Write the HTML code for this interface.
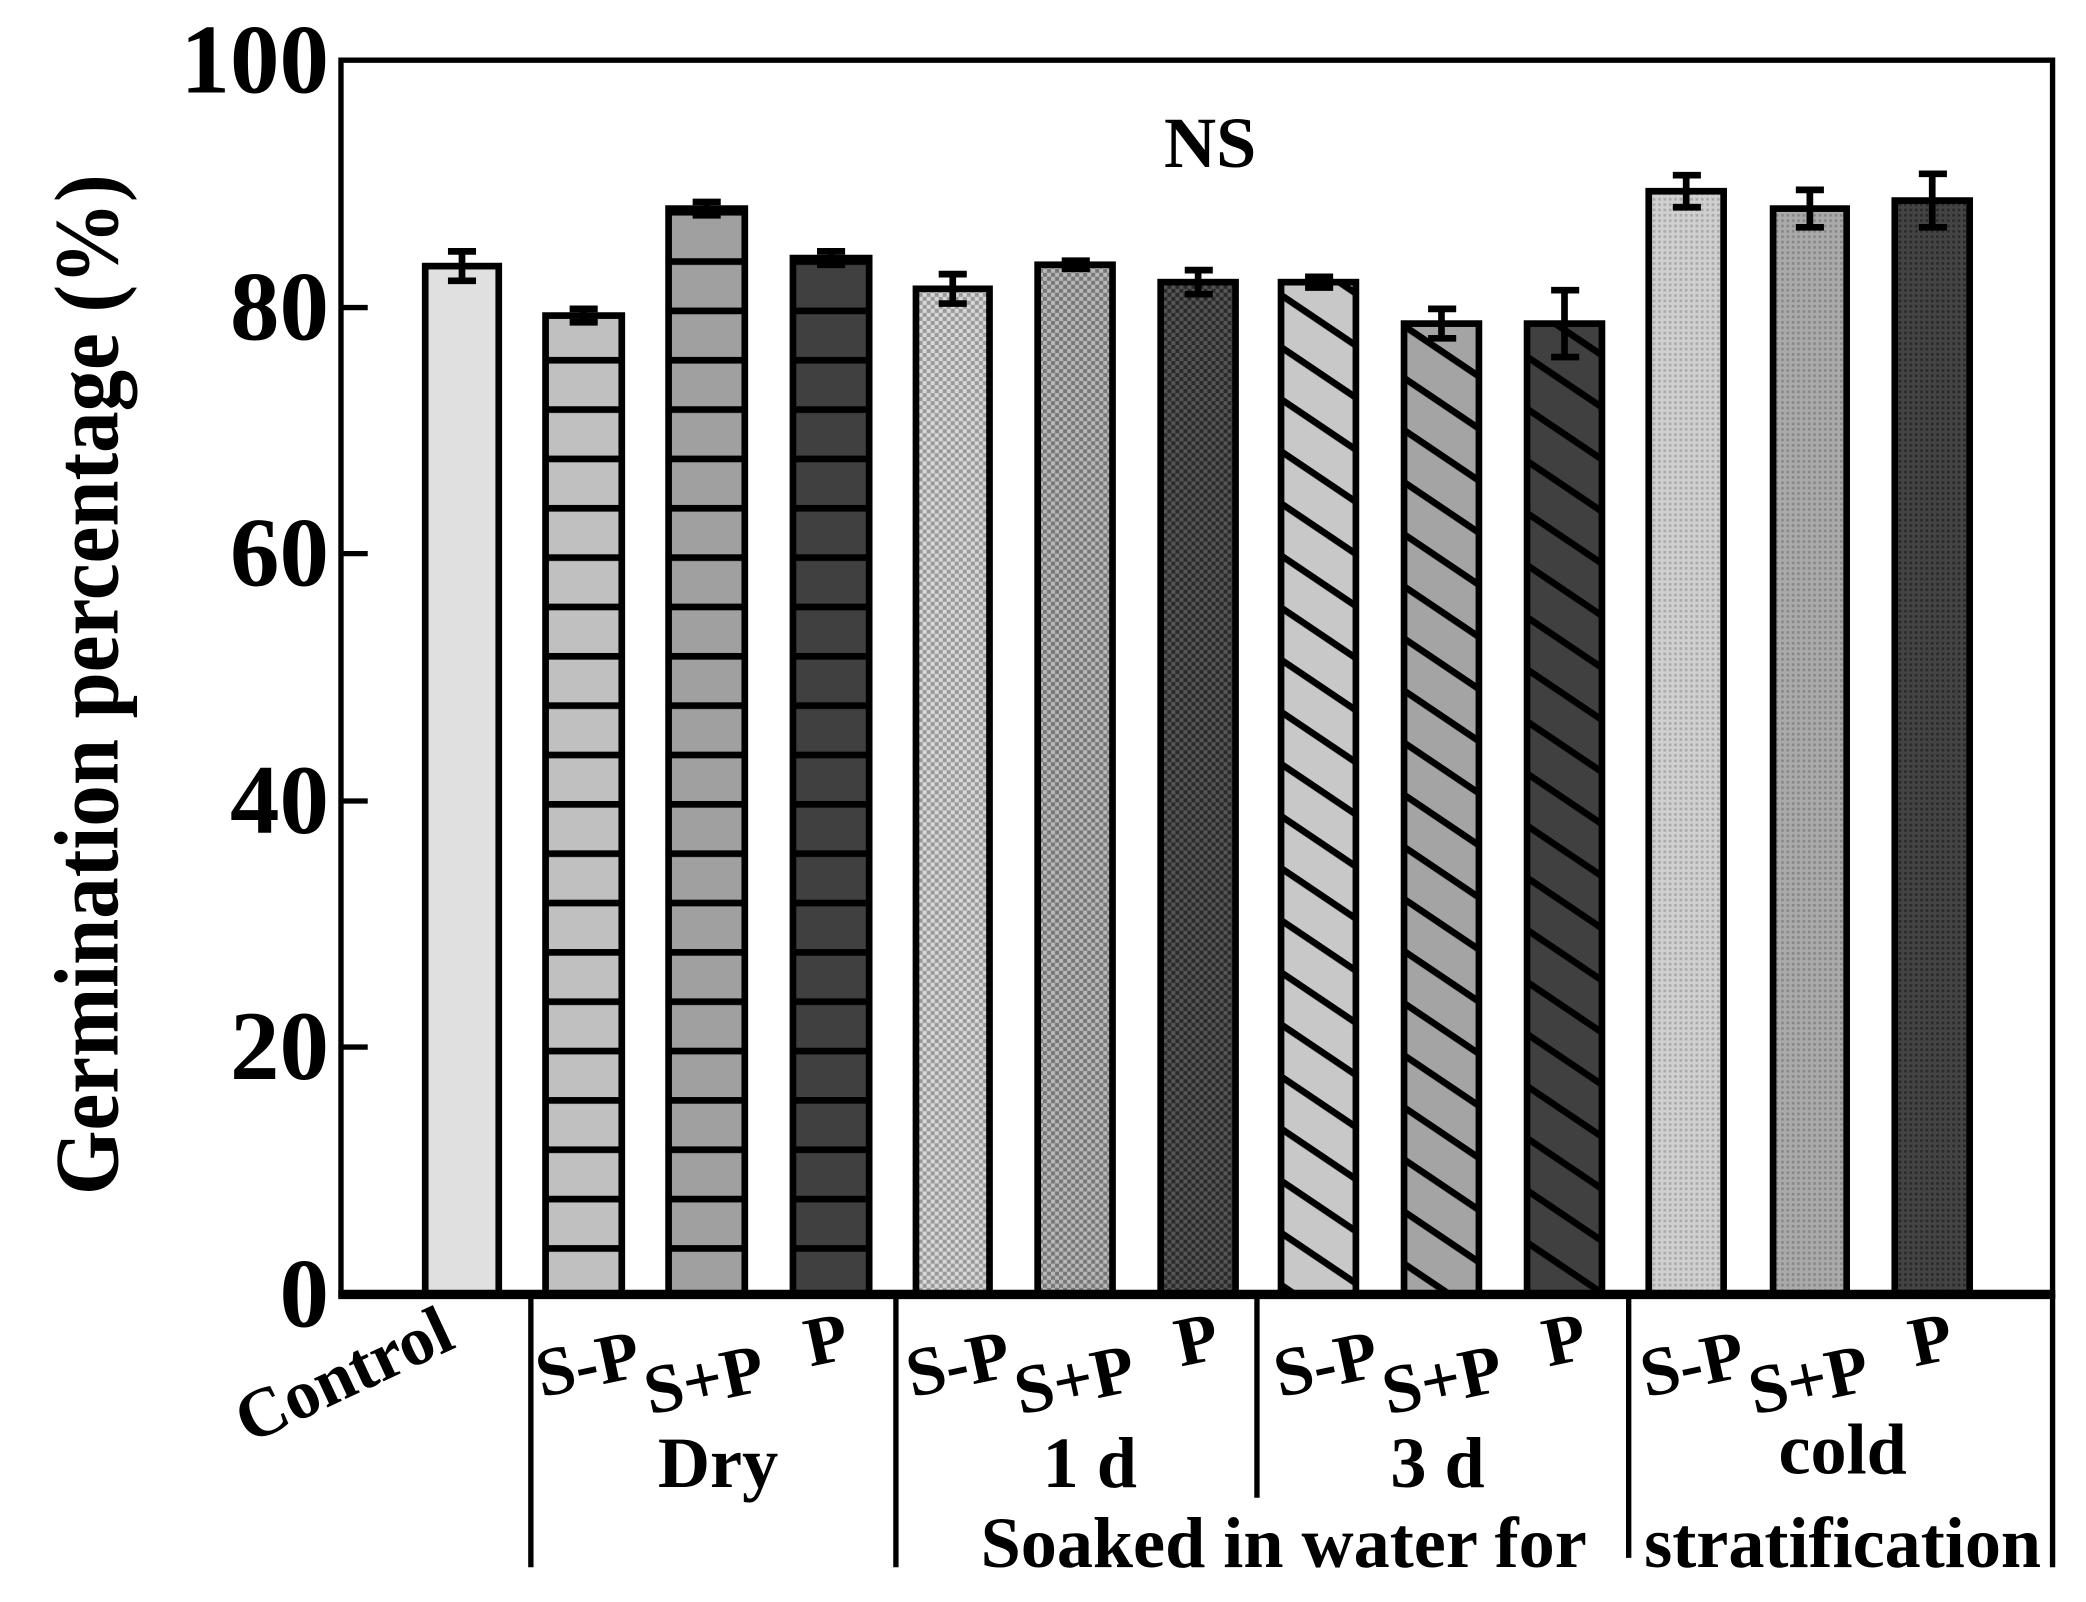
<!DOCTYPE html>
<html><head><style>html,body{margin:0;padding:0;background:#fff}svg{display:block}</style></head>
<body>
<svg width="2086" height="1602" viewBox="0 0 1560 1198" preserveAspectRatio="none" xmlns="http://www.w3.org/2000/svg" font-family="Liberation Serif, serif" font-weight="bold">
<defs>
<pattern id="h1" width="10" height="36.9" patternUnits="userSpaceOnUse" y="968"><rect width="10" height="36.9" fill="#c0c0c0"/><rect y="0" width="10" height="5" fill="#000"/></pattern>
<pattern id="h2" width="10" height="36.9" patternUnits="userSpaceOnUse" y="968"><rect width="10" height="36.9" fill="#a0a0a0"/><rect y="0" width="10" height="5" fill="#000"/></pattern>
<pattern id="h3" width="10" height="36.9" patternUnits="userSpaceOnUse" y="968"><rect width="10" height="36.9" fill="#404040"/><rect y="0" width="10" height="5" fill="#000"/></pattern>
<pattern id="c1" width="6" height="6" patternUnits="userSpaceOnUse"><rect width="6" height="6" fill="#d8d8d8"/><rect width="3" height="3" fill="#999"/><rect x="3" y="3" width="3" height="3" fill="#999"/></pattern>
<pattern id="c2" width="6" height="6" patternUnits="userSpaceOnUse"><rect width="6" height="6" fill="#b8b8b8"/><rect width="3" height="3" fill="#777"/><rect x="3" y="3" width="3" height="3" fill="#777"/></pattern>
<pattern id="c3" width="6" height="6" patternUnits="userSpaceOnUse"><rect width="6" height="6" fill="#555"/><rect width="3" height="3" fill="#2a2a2a"/><rect x="3" y="3" width="3" height="3" fill="#2a2a2a"/></pattern>
<pattern id="d1" width="40" height="32.3" patternUnits="userSpaceOnUse" patternTransform="rotate(34)"><rect width="40" height="32.3" fill="#c8c8c8"/><rect width="40" height="5" fill="#000"/></pattern>
<pattern id="d2" width="40" height="32.3" patternUnits="userSpaceOnUse" patternTransform="rotate(34)"><rect width="40" height="32.3" fill="#a4a4a4"/><rect width="40" height="5" fill="#000"/></pattern>
<pattern id="d3" width="40" height="32.3" patternUnits="userSpaceOnUse" patternTransform="rotate(34)"><rect width="40" height="32.3" fill="#404040"/><rect width="40" height="5" fill="#000"/></pattern>
<pattern id="s1" width="4" height="4" patternUnits="userSpaceOnUse"><rect width="4" height="4" fill="#d0d0d0"/><rect width="2" height="2" fill="#aaa"/></pattern>
<pattern id="s2" width="4" height="4" patternUnits="userSpaceOnUse"><rect width="4" height="4" fill="#aaa"/><rect width="2" height="2" fill="#888"/></pattern>
<pattern id="s3" width="4" height="4" patternUnits="userSpaceOnUse"><rect width="4" height="4" fill="#444"/><rect width="2" height="2" fill="#2a2a2a"/></pattern>
</defs>
<g stroke="#000" stroke-width="5">
<rect x="318" y="199" width="55" height="769" fill="#e0e0e0"/>
<rect x="408" y="236" width="57" height="732" fill="url(#h1)"/>
<rect x="500" y="156" width="57" height="812" fill="url(#h2)"/>
<rect x="593" y="193" width="57" height="775" fill="url(#h3)"/>
<rect x="685" y="216" width="55" height="752" fill="url(#c1)"/>
<rect x="776" y="198" width="56" height="770" fill="url(#c2)"/>
<rect x="868" y="211" width="56" height="757" fill="url(#c3)"/>
<rect x="958" y="211" width="56" height="757" fill="url(#d1)"/>
<rect x="1050" y="242" width="56" height="726" fill="url(#d2)"/>
<rect x="1142" y="242" width="56" height="726" fill="url(#d3)"/>
<rect x="1233" y="143" width="56" height="825" fill="url(#s1)"/>
<rect x="1326" y="156" width="55" height="812" fill="url(#s2)"/>
<rect x="1417" y="150" width="56" height="818" fill="url(#s3)"/>
</g>
<g stroke="#000" stroke-width="5" fill="none">
<path d="M345.5 188v22M335 188h21M335 210h21"/>
<path d="M436.5 231v10M426 231h21M426 241h21"/>
<path d="M528.5 151v10M518 151h21M518 161h21"/>
<path d="M621.5 188v10M611 188h21M611 198h21"/>
<path d="M712.5 205v22M702 205h21M702 227h21"/>
<path d="M804 195v6M794 195h21M794 201h21"/>
<path d="M896 202v18M886 202h21M886 220h21"/>
<path d="M986 207v8M976 207h21M976 215h21"/>
<path d="M1078 231v22M1068 231h21M1068 253h21"/>
<path d="M1170 217v50M1160 217h21M1160 267h21"/>
<path d="M1261 131v24M1251 131h21M1251 155h21"/>
<path d="M1353.5 142v28M1343 142h21M1343 170h21"/>
<path d="M1445 130v40M1435 130h21M1435 170h21"/>
</g>
<rect x="255" y="45" width="1280" height="923" fill="none" stroke="#000" stroke-width="4"/>
<line x1="253" y1="968" x2="1537" y2="968" stroke="#000" stroke-width="7"/>
<g stroke="#000" stroke-width="4">
<path d="M255 783h20M255 599h20M255 414h20M255 230h20"/>
<path d="M397 968v204M670 968v204M940 968v152M1218 968v197M1535 968v204"/>
</g>
<g font-size="74" text-anchor="end">
<text x="246" y="992">0</text><text x="246" y="807">20</text><text x="246" y="623">40</text>
<text x="246" y="438">60</text><text x="246" y="254">80</text><text x="246" y="69">100</text>
</g>
<text transform="translate(88,512) rotate(-90) scale(1,1.1)" font-size="62" text-anchor="middle">Germination percentage (%)</text>
<text x="905" y="125" font-size="54" text-anchor="middle">NS</text>
<g font-size="52">
<text transform="translate(186,1080) rotate(-25)">Control</text>
<g id="lab">
<text transform="translate(405,1045) rotate(-12)">S-P</text>
<text transform="translate(486,1058) rotate(-12)">S+P</text>
<text transform="translate(606,1022) rotate(-12)">P</text>
</g>
<use href="#lab" x="277"/><use href="#lab" x="552"/><use href="#lab" x="826"/>
</g>
<g font-size="54" text-anchor="middle">
<text x="537" y="1112">Dry</text>
<text x="815" y="1112">1 d</text>
<text x="1075" y="1112">3 d</text>
<text x="1378" y="1102">cold</text>
<text x="960" y="1172">Soaked in water for</text>
<text x="1378" y="1172">stratification</text>
</g>
</svg>
</body></html>
